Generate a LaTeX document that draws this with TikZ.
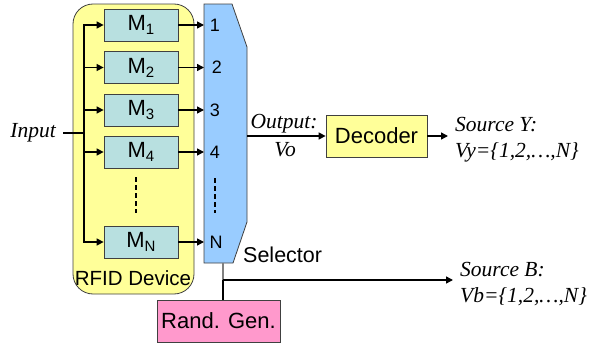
\documentclass[tikz,border=0pt]{standalone}
\usepackage{fontspec}
\setmainfont{Liberation Serif}
\setsansfont{Liberation Sans}
\usetikzlibrary{arrows.meta}
\definecolor{rfidyellow}{HTML}{FFFF99}
\definecolor{mcyan}{HTML}{B8E0E0}
\definecolor{selblue}{HTML}{99CCFF}
\definecolor{rgpink}{HTML}{FF99CC}
\definecolor{edgegray}{HTML}{404040}
\newcommand{\sub}[1]{\raisebox{-4pt}{\fontsize{15}{15}\selectfont #1}}
\tikzset{
  box/.style={draw=edgegray, line width=0.8pt, inner sep=0pt, font=\sffamily\fontsize{22}{26}\selectfont},
  mbox/.style={box, fill=mcyan, minimum width=74pt, minimum height=32pt},
  arr/.style={line width=1.5pt, -{Triangle[length=7pt,width=7pt]}},
  wire/.style={line width=1.5pt},
  num/.style={font=\sffamily\fontsize{18}{21}\selectfont, inner sep=0pt},
  ital/.style={font=\itshape\fontsize{21.5}{25}\selectfont, inner sep=0pt},
  dots/.style={line width=2pt, dash pattern=on 5pt off 3pt},
}
\begin{document}
\begin{tikzpicture}[x=1pt,y=-1pt]
\useasboundingbox (0,0) rectangle (590,348);
% RFID device
\node[box, fill=rfidyellow, rounded corners=20pt, minimum width=121pt, minimum height=290pt] (rfid) at (133.5,149) {};
\node[font=\sffamily\fontsize{20.5}{24}\selectfont, inner sep=0pt] (rfidlbl) at (133,278) {RFID Device};
% M boxes
\node[mbox] (m1) at (141,25) {M\sub{1}};
\node[mbox] (m2) at (141,67.5) {M\sub{2}};
\node[mbox] (m3) at (141,110) {M\sub{3}};
\node[mbox] (m4) at (141,152) {M\sub{4}};
\node[mbox] (mn) at (141,242) {M\sub{N}};
\draw[dots] (136,177) -- (136,213);
% Input and bus
\node[ital, anchor=east] (input) at (56,133) {Input};
\coordinate (in0) at (63,133);
\coordinate (j) at (84,133);
\draw[wire] (in0) -- (j);
\draw[arr] (j) |- (m1.west);
\draw[arr] (j) |- (m2.west);
\draw[arr] (j) |- (m3.west);
\draw[arr] (j) |- (m4.west);
\draw[arr] (j) |- (mn.west);
% Selector
\draw[draw=edgegray, line width=0.8pt, fill=selblue] (204,4) -- (232,4) -- (247,47) -- (247,222) -- (233,263) -- (204,263) -- cycle;
\coordinate (selL) at (204,0);
\coordinate (selR) at (247,136);
\coordinate (selB) at (223,263);
\node[num] (n1) at (215,25) {1};
\node[num] (n2) at (217,67.5) {2};
\node[num] (n3) at (215,110) {3};
\node[num] (n4) at (215,152) {4};
\node[num] (nn) at (216,242) {N};
\draw[dots] (215,178) -- (215,213);
\draw[arr] (m1.east) -- (m1.east -| selL);
\draw[arr] (m2.east) -- (m2.east -| selL);
\draw[arr] (m3.east) -- (m3.east -| selL);
\draw[arr] (m4.east) -- (m4.east -| selL);
\draw[arr] (mn.east) -- (mn.east -| selL);
\node[font=\sffamily\fontsize{21.5}{25}\selectfont, inner sep=0pt, anchor=west] (sellbl) at (243,255) {Selector};
% Decoder
\node[box, fill=rfidyellow, minimum width=101pt, minimum height=42pt] (dec) at (376.5,136) {Decoder};
\draw[arr] (selR) -- (dec.west);
\node[ital] (outlbl) at (284,124) {Output:};
\node[ital] (vo) at (285,150) {Vo};
\coordinate (yend) at (448,136);
\draw[arr] (dec.east) -- (yend);
\node[ital, anchor=west] (srcy) at (455,125) {Source Y:};
\node[ital, anchor=west] (vy) at (455,152) {Vy=\{1,2,…,N\}};
% Random generator
\node[box, fill=rgpink, minimum width=123pt, minimum height=42pt] (rg) at (218.5,321) {Rand. Gen.};
\coordinate (k) at (223,280);
\coordinate (bend) at (453,280);
\draw[gray, line width=1.2pt] (selB) -- (k);
\draw[wire] (k) -- (k |- rg.north);
\draw[arr] (k) -- (bend);
\node[ital, anchor=west] (srcb) at (460,270) {Source B:};
\node[ital, anchor=west] (vb) at (460,297) {Vb=\{1,2,…,N\}};
\end{tikzpicture}
\end{document}
